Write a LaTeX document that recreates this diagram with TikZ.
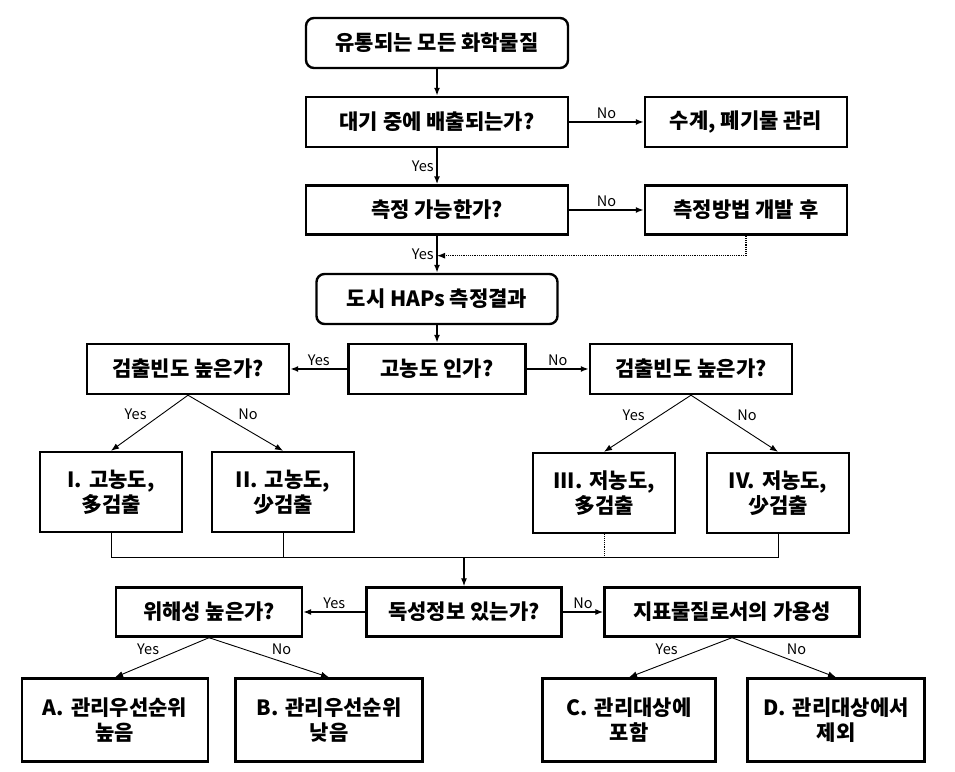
\documentclass[tikz,border=0pt]{standalone}
\usepackage{fontspec}
\setmainfont{Noto Sans CJK KR}
\usetikzlibrary{shapes,arrows.meta,positioning}

\tikzset{
    box/.style={rectangle, draw, line width=2.4pt, minimum width=262pt, minimum height=50pt, text centered, inner sep=2pt, font=\fontsize{21}{25}\selectfont\bfseries},
    rbox/.style={box, rounded corners=8pt},
    cls/.style={box, minimum width=142pt, minimum height=80pt, text width=132pt},
    lab/.style={font=\fontsize{14.5}{16}\selectfont, inner sep=2.5pt},
    arr/.style={-{Latex[length=8pt, width=6pt]}, line width=1.6pt},
    thinarr/.style={-{Latex[length=8pt, width=6pt]}, line width=0.9pt},
}

\begin{document}
\begin{tikzpicture}[x=1pt, y=1pt, auto]
    \useasboundingbox (0,0) rectangle (955,771);

    % top part
    \node[rbox] (start) at (437,728) {유통되는 모든 화학물질};
    \node[box, below of=start, node distance=79pt] (air) {대기 중에 배출되는가?};
    \node[box, minimum width=202pt, right of=air, node distance=309pt] (water) {수계, 폐기물 관리};
    \node[box, below of=air, node distance=88pt, minimum height=49pt] (measure) {측정 가능한가?};
    \node[box, minimum width=202pt, minimum height=49pt, right of=measure, node distance=309pt] (method) {측정방법 개발 후};
    \node[rbox, minimum width=241pt, below of=measure, node distance=89pt] (haps) {도시 HAPs 측정결과};

    % concentration / frequency
    \node[box, minimum width=177pt, below of=haps, node distance=70pt] (conc) {고농도 인가?};
    \node[box, minimum width=202pt, left of=conc, node distance=249pt] (freqhi) {검출빈도 높은가?};
    \node[box, minimum width=202pt, right of=conc, node distance=254pt] (freqlo) {검출빈도 높은가?};
    \node[cls, below of=freqhi, node distance=123pt, xshift=-77pt] (c1) {I. 고농도,\\多검출};
    \node[cls, below of=freqhi, node distance=123pt, xshift=95pt] (c2) {II. 고농도,\\少검출};
    \node[cls, below of=freqlo, node distance=124pt, xshift=-87pt] (c3) {III. 저농도,\\多검출};
    \node[cls, below of=freqlo, node distance=124pt, xshift=87pt] (c4) {IV. 저농도,\\少검출};

    % toxicity part
    \node[box, minimum width=195pt, minimum height=49pt, below of=conc, node distance=243pt, xshift=27pt] (tox) {독성정보 있는가?};
    \node[box, minimum width=186pt, minimum height=49pt, left of=tox, node distance=255pt] (harm) {위해성 높은가?};
    \node[box, minimum width=255pt, minimum height=49pt, right of=tox, node distance=268pt] (indic) {지표물질로서의 가용성};
    \node[cls, minimum width=186pt, minimum height=83pt, text width=176pt, below of=harm, node distance=108pt, xshift=-94pt] (ra) {A. 관리우선순위\\높음};
    \node[cls, minimum width=187pt, minimum height=83pt, text width=177pt, below of=harm, node distance=108pt, xshift=120pt] (rb) {B. 관리우선순위\\낮음};
    \node[cls, minimum width=173pt, minimum height=83pt, text width=163pt, below of=indic, node distance=108pt, xshift=-103pt] (rc) {C. 관리대상에\\포함};
    \node[cls, minimum width=177pt, minimum height=83pt, text width=167pt, below of=indic, node distance=108pt, xshift=104pt] (rd) {D. 관리대상에서\\제외};

    \draw[arr] (start) -- (air);
    \draw[arr] (air) -- node[lab, swap] {Yes} (measure);
    \draw[arr] (air) -- node[lab] {No} (water);
    \draw[arr] (measure) -- node[lab, swap] {Yes} (haps);
    \draw[arr] (measure) -- node[lab] {No} (method);
    \draw[arr, line width=1.2pt, densely dotted] (method.south) -- ++(0,-20) coordinate (back) -- (back -| measure.south);
    \draw[arr] (haps) -- (conc);

    \draw[arr] (conc) -- node[lab, swap] {Yes} (freqhi);
    \draw[arr] (conc) -- node[lab] {No} (freqlo);
    \draw[thinarr] (freqhi.south) -- node[lab, swap] {Yes} (c1.north);
    \draw[thinarr] (freqhi.south) -- node[lab] {No} (c2.north);
    \draw[thinarr] (freqlo.south) -- node[lab, swap] {Yes} (c3.north);
    \draw[thinarr] (freqlo.south) -- node[lab] {No} (c4.north);

    % collecting line
    \path (tox.north) ++(0,29) coordinate (join);
    \draw[line width=0.9pt] (c1.south) -- (c1.south |- join) -- (c4.south |- join) -- (c4.south);
    \draw[line width=0.9pt] (c2.south) -- (c2.south |- join);
    \draw[line width=0.9pt, densely dotted] (c3.south) -- (c3.south |- join);
    \draw[arr, line width=1.2pt] (join) -- (tox);

    \draw[arr, line width=1.2pt] (tox) -- node[lab, swap] {Yes} (harm);
    \draw[arr, line width=1.2pt] (tox) -- node[lab] {No} (indic);
    \draw[thinarr] (harm.south) -- node[lab, swap] {Yes} (ra.north);
    \draw[thinarr] (harm.south) -- node[lab] {No} (rb.north);
    \draw[thinarr] (indic.south) -- node[lab, swap] {Yes} (rc.north);
    \draw[thinarr] (indic.south) -- node[lab] {No} (rd.north);
\end{tikzpicture}
\end{document}
